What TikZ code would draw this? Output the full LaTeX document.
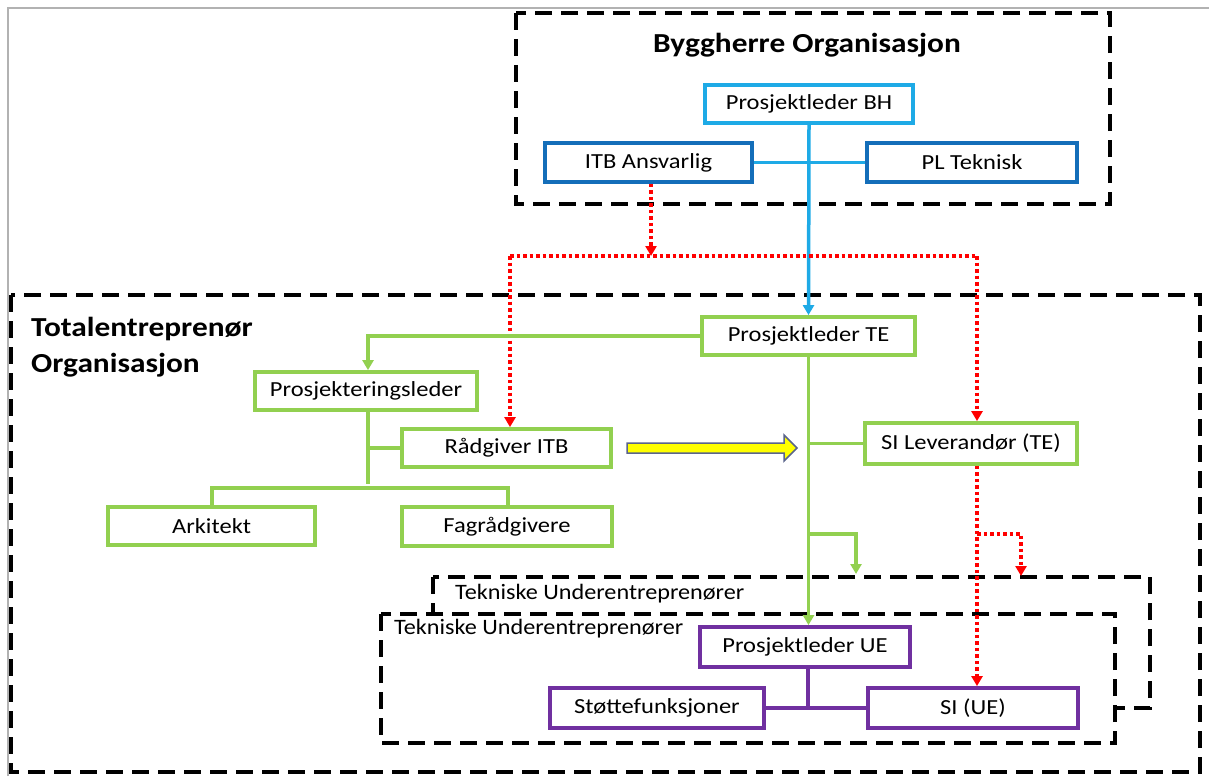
\documentclass[tikz,border=0pt]{standalone}
\usepackage{fontspec}
\usepackage{graphicx}
\setmainfont{Carlito}
\usetikzlibrary{arrows.meta,calc}
\definecolor{lblue}{RGB}{30,170,230}
\definecolor{dblue}{RGB}{20,110,185}
\definecolor{ggreen}{RGB}{146,208,80}
\definecolor{ppurple}{RGB}{112,48,160}
\definecolor{rred}{RGB}{255,0,0}
\definecolor{yfill}{RGB}{255,255,0}
\definecolor{yedge}{RGB}{90,100,140}
\newcommand\wtxt[1]{\scalebox{1.14}[1]{#1}}
\newcommand\wtit[1]{\scalebox{1.14}[1]{#1}}
\newcommand\wsub[1]{\scalebox{1.1}[1]{#1}}
\tikzset{
  box/.style={draw, line width=3.8pt, fill=white, inner sep=0pt, font=\fontsize{21.5}{24}\selectfont},
  orgframe/.style={draw=black, line width=4pt, dash pattern=on 17pt off 9pt},
  tip/.style={-{Triangle[length=10pt,width=11pt]}},
  reddot/.style={draw=rred, line width=3.5pt, dash pattern=on 3.5pt off 3pt},
  gline/.style={draw=ggreen, line width=3.5pt},
  title/.style={font=\fontsize{27.5}{30}\selectfont\bfseries, inner sep=0pt},
  sublabel/.style={font=\fontsize{22}{24}\selectfont, inner sep=0pt, anchor=west},
}
\begin{document}
\begin{tikzpicture}[x=1pt,y=-1pt]
\useasboundingbox (0,0) rectangle (1209,776);
% grey outer frame
\draw[gray!60, line width=2pt] (8,776) -- (8,8) -- (1209,8);
% Byggherre frame
\draw[orgframe] (516,13) rectangle (1110,204);
\node[title] (bhtitle) at (807,45) {\wtit{Byggherre Organisasjon}};
% Totalentreprenor frame
\draw[orgframe] (11,295) rectangle (1200,772);
\node[title, anchor=base west] (tetitle) at (31,336) {\wtit{Totalentreprenør}};
\node[title, anchor=base west] (tetitle2) at (31,372) {\wtit{Organisasjon}};
% TU frames
\draw[orgframe, fill=white] (433,577) rectangle (1150,708);
\node[sublabel] (tu1) at (455,594) {\wsub{Tekniske Underentreprenører}};
\draw[orgframe, fill=white] (381,614) rectangle (1115,743);
\node[sublabel] (tu2) at (394,629) {\wsub{Tekniske Underentreprenører}};

% BH nodes
\node[box, draw=lblue, minimum width=208pt, minimum height=38pt] (pbh) at (809,104) {\wtxt{Prosjektleder BH}};
\node[box, draw=dblue, minimum width=207pt, minimum height=39pt] (itb) at (648.5,162.5) {\wtxt{ITB Ansvarlig}};
\node[box, draw=dblue, minimum width=210pt, minimum height=39pt] (plt) at (972,162.5) {\wtxt{PL Teknisk}};

% TE nodes
\node[box, draw=ggreen, minimum width=213pt, minimum height=38pt] (pte) at (808.5,336) {\wtxt{Prosjektleder TE}};
\node[box, draw=ggreen, minimum width=222pt, minimum height=38pt] (psl) at (366,391) {\wtxt{Prosjekteringsleder}};
\node[box, draw=ggreen, minimum width=209pt, minimum height=38pt] (rad) at (506.5,448) {\wtxt{Rådgiver ITB}};
\node[box, draw=ggreen, minimum width=207pt, minimum height=38pt] (ark) at (211.5,526) {\wtxt{Arkitekt}};
\node[box, draw=ggreen, minimum width=210pt, minimum height=39pt] (fag) at (507,526.5) {\wtxt{Fagrådgivere}};
\node[box, draw=ggreen, minimum width=212pt, minimum height=41pt] (sil) at (971,443.5) {\wtxt{SI Leverandør (TE)}};

% UE nodes
\node[box, draw=ppurple, minimum width=210pt, minimum height=40pt] (pue) at (805,647) {\wtxt{Prosjektleder UE}};
\node[box, draw=ppurple, minimum width=214pt, minimum height=40pt] (sto) at (657,708) {\wtxt{Støttefunksjoner}};
\node[box, draw=ppurple, minimum width=210pt, minimum height=40pt] (siue) at (973,708) {\wtxt{SI (UE)}};

% blue connectors
\draw[draw=lblue, line width=3.5pt] (itb.east) -- (plt.west);
\draw[draw=lblue, line width=3.5pt, tip] (pbh.south) -- (pte.north);

% red dotted connectors
\coordinate (rA) at (651,256);
\coordinate (rL) at (510,256);
\coordinate (rR) at (977,256);
\draw[reddot, tip] (itb.south -| rA) -- (rA);
\draw[reddot] (rL) -- (rR);
\draw[reddot, tip] (rL) -- (rL |- rad.north);
\draw[reddot, tip] (rR) -- (rR |- sil.north);
\coordinate (rS) at (977,534);
\coordinate (rT) at (1021,576);
\draw[reddot, tip] (sil.south -| rS) -- (siue.north -| rS);
\draw[reddot, tip] (rS) -| (rT);

% green connectors
\coordinate (g1) at (368,336);
\draw[gline, tip] (pte.west) -- (g1) -- (g1 |- psl.north);
\coordinate (g2) at (368,484);
\draw[gline] (psl.south -| g2) -- (g2);
\draw[gline] (rad.west) -- (rad.west -| g2);
\coordinate (g3) at (212,488);
\coordinate (g4) at (508,488);
\draw[gline] (ark.north -| g3) -- (g3) -- (g4) -- (fag.north -| g4);
\draw[gline, tip] (pte.south) -- (pue.north -| pte.south);
\draw[gline] (sil.west) -- (sil.west -| pte.south);
\coordinate (g5) at (808,534);
\coordinate (g6) at (856,574);
\draw[gline, tip] (g5) -| (g6);

% purple connectors
\coordinate (p1) at (808,708);
\draw[draw=ppurple, line width=3.5pt] (pue.south -| p1) -- (p1);
\draw[draw=ppurple, line width=3.5pt] (sto.east) -- (siue.west);

% yellow arrow
\draw[draw=yedge, fill=yfill, line width=1.5pt] (627,443) -- (784,443) -- (784,435) -- (797,448) -- (784,461) -- (784,453) -- (627,453) -- cycle;
\end{tikzpicture}
\end{document}
